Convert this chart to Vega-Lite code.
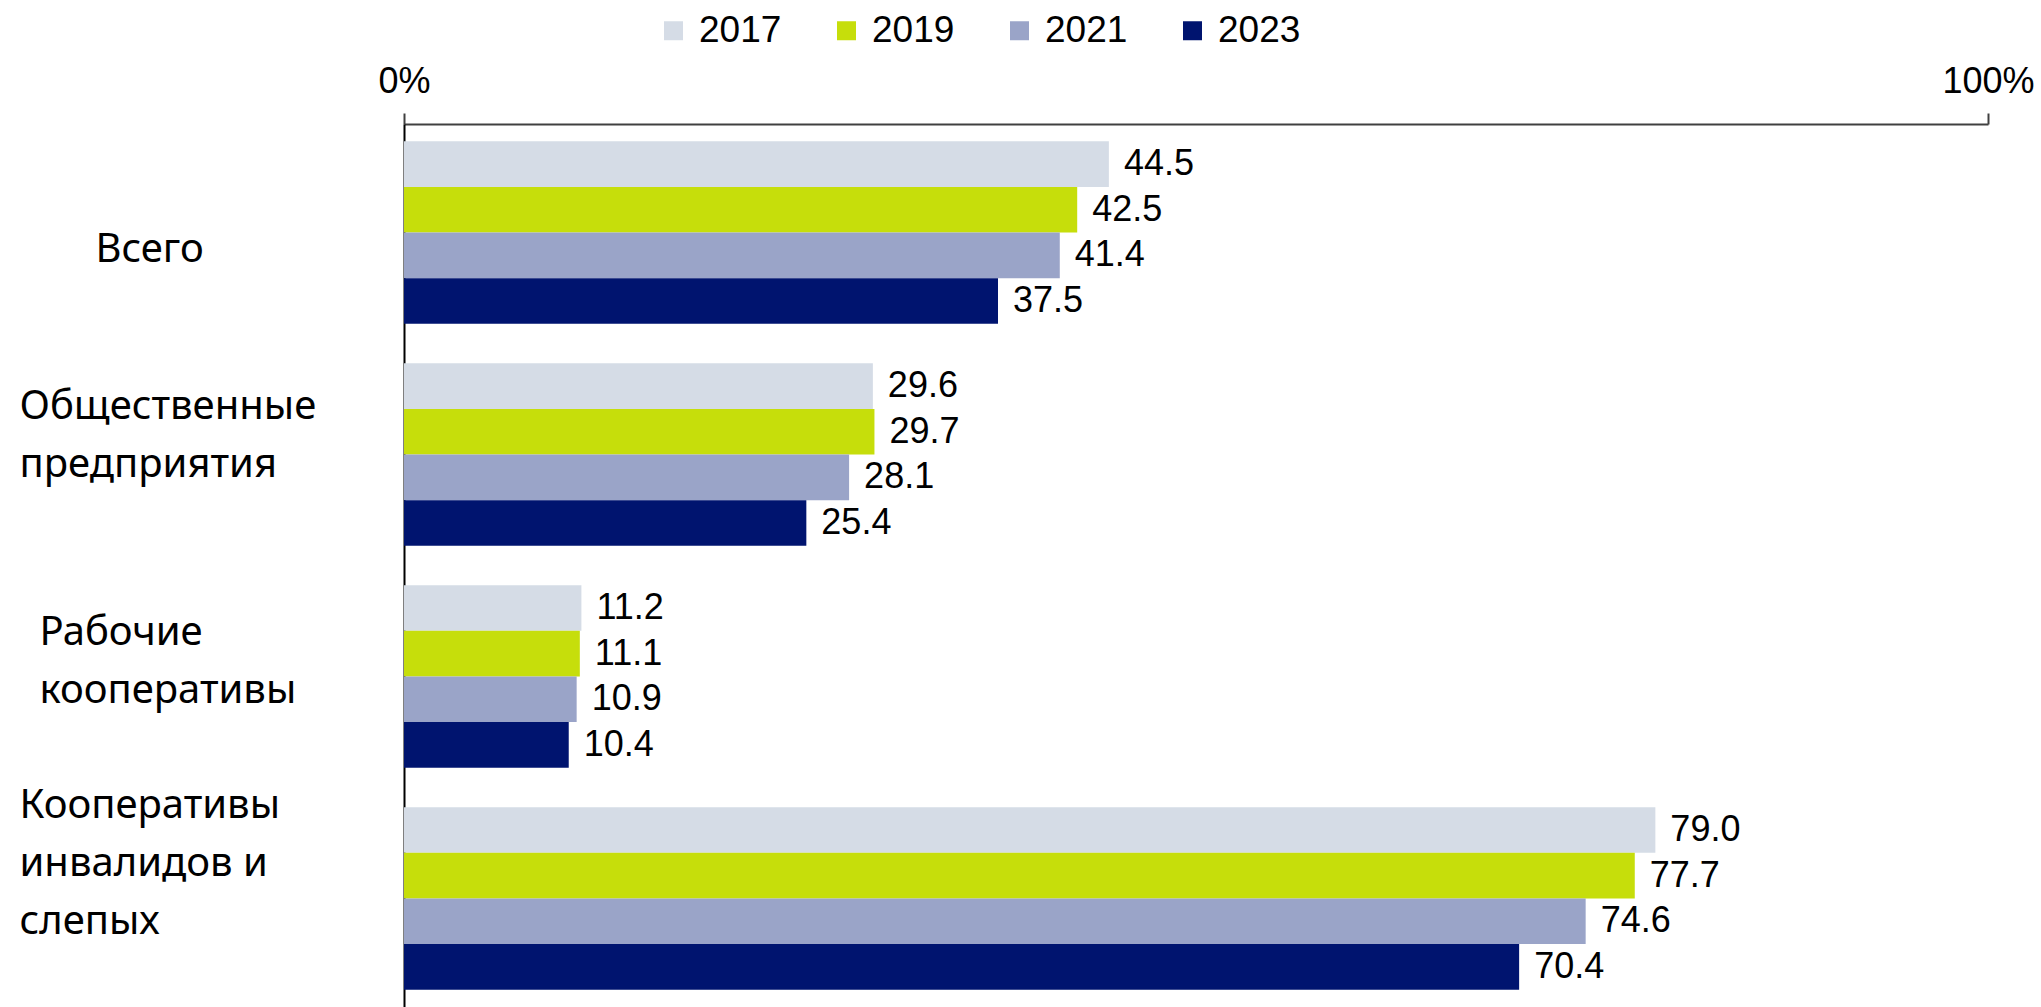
{
  "$schema": "https://vega.github.io/schema/vega-lite/v6.json",
  "autosize": {"type": "none"},
  "padding": {"left": 404, "top": 124, "right": 53, "bottom": 0},
  "width": 1584,
  "height": 883,
  "background": "white",
  "config": {"view": {"stroke": null}, "font": "Liberation Sans"},
  "data": {
    "values": [
      {"category": "Всего", "year": "2017", "value": 44.5},
      {"category": "Всего", "year": "2019", "value": 42.5},
      {"category": "Всего", "year": "2021", "value": 41.4},
      {"category": "Всего", "year": "2023", "value": 37.5},
      {"category": "Общественные предприятия", "year": "2017", "value": 29.6},
      {"category": "Общественные предприятия", "year": "2019", "value": 29.7},
      {"category": "Общественные предприятия", "year": "2021", "value": 28.1},
      {"category": "Общественные предприятия", "year": "2023", "value": 25.4},
      {"category": "Рабочие кооперативы", "year": "2017", "value": 11.2},
      {"category": "Рабочие кооперативы", "year": "2019", "value": 11.1},
      {"category": "Рабочие кооперативы", "year": "2021", "value": 10.9},
      {"category": "Рабочие кооперативы", "year": "2023", "value": 10.4},
      {"category": "Кооперативы инвалидов и слепых", "year": "2017", "value": 79.0},
      {"category": "Кооперативы инвалидов и слепых", "year": "2019", "value": 77.7},
      {"category": "Кооперативы инвалидов и слепых", "year": "2021", "value": 74.6},
      {"category": "Кооперативы инвалидов и слепых", "year": "2023", "value": 70.4}
    ]
  },
  "encoding": {
    "y": {
      "field": "category",
      "type": "nominal",
      "sort": null,
      "scale": {"paddingInner": 0.178, "paddingOuter": 0.078},
      "axis": {
        "title": null,
        "ticks": false,
        "tickSize": 0,
        "domainColor": "#000000",
        "domainWidth": 2,
        "labelFont": "Noto Sans",
        "labelFontSize": 40,
        "labelColor": "#000000",
        "labelAlign": "left",
        "labelPadding": {
          "condition": [
            {"test": "datum.value == 'Всего'", "value": 309},
            {"test": "datum.value == 'Рабочие кооперативы'", "value": 365}
          ],
          "value": 385
        },
        "labelOffset": {
          "condition": [
            {"test": "datum.value == 'Всего'", "value": 17},
            {"test": "datum.value == 'Общественные предприятия'", "value": -48},
            {"test": "datum.value == 'Рабочие кооперативы'", "value": -43}
          ],
          "value": -92
        },
        "labelLineHeight": 58,
        "labelLimit": 500,
        "labelExpr": "datum.value == 'Общественные предприятия' ? ['Общественные', 'предприятия'] : datum.value == 'Рабочие кооперативы' ? ['Рабочие', 'кооперативы'] : datum.value == 'Кооперативы инвалидов и слепых' ? ['Кооперативы', 'инвалидов и', 'слепых'] : datum.value"
      }
    },
    "yOffset": {
      "field": "year",
      "type": "nominal",
      "sort": ["2017", "2019", "2021", "2023"],
      "scale": {"paddingInner": 0, "paddingOuter": 0}
    },
    "x": {
      "field": "value",
      "type": "quantitative",
      "scale": {"domain": [0, 100]},
      "axis": {
        "orient": "top",
        "title": null,
        "values": [0, 100],
        "labelExpr": "datum.value + '%'",
        "grid": false,
        "domainColor": "#404040",
        "domainWidth": 2,
        "tickColor": "#404040",
        "tickWidth": 2,
        "tickSize": 11,
        "labelFont": "Liberation Sans",
        "labelFontSize": 36,
        "labelColor": "#000000",
        "labelPadding": 21,
        "labelBaseline": "alphabetic",
        "labelFlush": false,
        "labelOverlap": false
      }
    }
  },
  "layer": [
    {
      "mark": {"type": "bar"},
      "encoding": {
        "color": {
          "field": "year",
          "type": "nominal",
          "scale": {
            "domain": ["2017", "2019", "2021", "2023"],
            "range": ["#D5DCE6", "#C6DE0B", "#9AA4C8", "#00146F"]
          },
          "legend": {
            "orient": "none",
            "legendX": 251,
            "legendY": -112,
            "direction": "horizontal",
            "title": null,
            "symbolType": "square",
            "symbolSize": 361,
            "symbolStrokeWidth": 0,
            "symbolOpacity": 1,
            "labelFont": "Liberation Sans",
            "labelFontSize": 37,
            "labelColor": "#000000",
            "labelOffset": 7,
            "columnPadding": 46,
            "padding": 0
          }
        }
      }
    },
    {
      "mark": {
        "type": "text",
        "align": "left",
        "baseline": "middle",
        "dx": 15,
        "fontSize": 36,
        "font": "Liberation Sans",
        "color": "#000000"
      },
      "encoding": {
        "text": {"field": "value", "type": "quantitative", "format": ".1f"}
      }
    }
  ]
}
